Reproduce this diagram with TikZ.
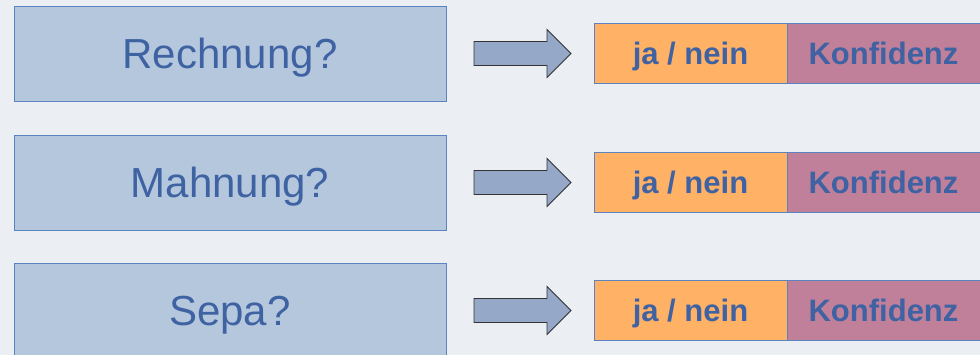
\documentclass[tikz,border=0pt]{standalone}
\usepackage{fontspec}
\setmainfont{Liberation Sans}
\definecolor{bg}{HTML}{EBEEF3}
\definecolor{qfill}{HTML}{B4C7DC}
\definecolor{qdraw}{HTML}{5B83C0}
\definecolor{txt}{HTML}{3F62A3}
\definecolor{orng}{HTML}{FFB266}
\definecolor{purp}{HTML}{C0809A}
\definecolor{arrfill}{HTML}{95A8C8}
\definecolor{arrdraw}{HTML}{333333}
\begin{document}
\begin{tikzpicture}[x=1pt,y=-1pt,
  qbox/.style={draw=qdraw,fill=qfill,line width=0.9pt,minimum width=432pt,minimum height=95pt,inner sep=0pt,text=txt,font=\fontsize{42}{48}\selectfont,text height=30pt,text depth=0pt},
  abox/.style={draw=qdraw,line width=0.9pt,minimum width=193pt,minimum height=60pt,inner sep=0pt,text=txt,font=\fontsize{31}{36}\selectfont\bfseries,text height=22.2pt,text depth=0pt},
  blockarrow/.style={draw=arrdraw,fill=arrfill,line width=0.9pt,line join=miter}]
\useasboundingbox[fill=bg] (0,0) rectangle (980,355);
\foreach \i/\lab/\yc in {1/Rechnung?/53.5, 2/Mahnung?/182.5, 3/Sepa?/310.5}{
  \node[qbox] (q\i) at (230,\yc) {\lab};
  \node[abox,fill=orng] (yn\i) at (690.5,\yc) {ja / nein};
  \node[abox,fill=purp] (kf\i) at (883.5,\yc) {Konfidenz};
  \draw[blockarrow] (474,\yc-12) -- (547,\yc-12) -- (547,\yc-24) -- (571,\yc) -- (547,\yc+24) -- (547,\yc+12) -- (474,\yc+12) -- cycle;
}
\end{tikzpicture}
\end{document}
